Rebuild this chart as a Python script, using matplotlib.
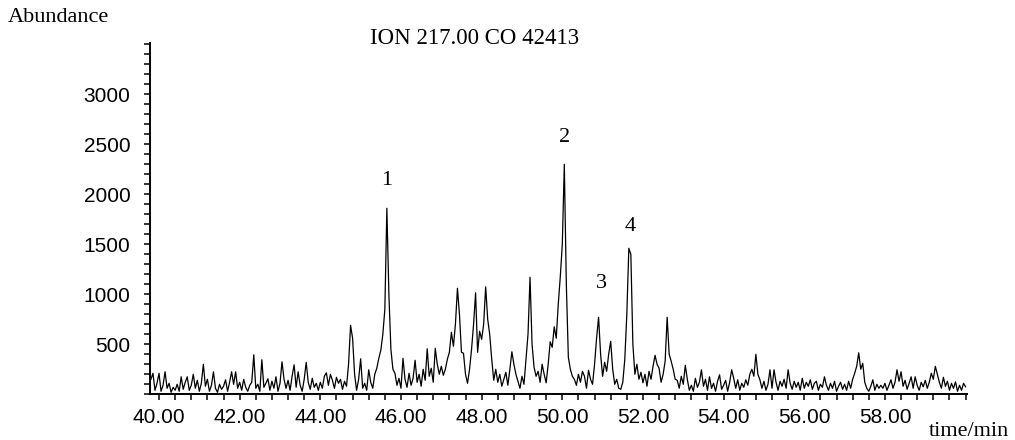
import matplotlib
matplotlib.use("Agg")
import matplotlib.pyplot as plt
import numpy as np
from matplotlib.ticker import FixedLocator, MultipleLocator, FormatStrFormatter

# scan grid of the ion chromatogram (min)
SCAN_START = 39.80
SCAN_STEP = 0.05

# abundance, one row per minute
ABUNDANCE = [
    150, 210, 40, 110,  # 39.80 - 39.95
    210, 30, 90, 225, 60, 110, 20, 70, 40, 100, 30, 175, 50, 120, 175, 40, 90, 200, 60, 140,  # 40
    30, 110, 300, 80, 150, 30, 90, 225, 60, 20, 100, 50, 80, 145, 30, 120, 225, 100, 225, 60,  # 41
    120, 40, 150, 70, 30, 90, 120, 395, 60, 100, 30, 345, 70, 110, 155, 40, 130, 60, 175, 30,  # 42
    110, 325, 150, 60, 140, 40, 180, 295, 70, 225, 90, 30, 150, 320, 120, 50, 160, 70, 110, 40,  # 43
    120, 60, 180, 215, 90, 200, 140, 60, 170, 110, 150, 50, 130, 80, 300, 690, 560, 200, 40, 150,  # 44
    355, 60, 110, 40, 245, 120, 60, 200, 260, 360, 440, 600, 850, 1860, 1000, 450, 250, 210, 90, 160,  # 45
    60, 360, 150, 70, 210, 90, 160, 340, 120, 200, 80, 250, 140, 455, 180, 260, 120, 460, 300, 200,  # 46
    280, 190, 250, 350, 420, 620, 480, 700, 1060, 800, 420, 410, 200, 110, 250, 450, 700, 1015, 420, 630,  # 47
    550, 700, 1075, 750, 600, 350, 140, 250, 120, 200, 80, 150, 220, 90, 250, 425, 300, 200, 130, 60,  # 48
    180, 100, 350, 600, 1170, 500, 270, 180, 230, 120, 300, 200, 115, 300, 525, 470, 675, 560, 900, 1175,  # 49
    1500, 2300, 1100, 370, 250, 180, 150, 90, 200, 120, 230, 180, 60, 240, 150, 100, 300, 560, 770, 400,  # 50
    180, 320, 230, 400, 530, 250, 100, 150, 60, 50, 120, 350, 800, 1460, 1400, 500, 200, 300, 150, 220,  # 51
    115, 200, 80, 230, 150, 280, 390, 300, 260, 120, 200, 330, 770, 400, 330, 250, 150, 140, 60, 180,  # 52
    100, 290, 150, 40, 90, 30, 160, 70, 120, 245, 80, 150, 40, 175, 60, 110, 30, 130, 195, 50,  # 53
    90, 140, 30, 120, 245, 160, 60, 145, 40, 110, 70, 145, 90, 200, 250, 180, 400, 200, 145, 60,  # 54
    130, 40, 100, 245, 60, 245, 120, 40, 130, 80, 150, 60, 245, 110, 50, 130, 70, 120, 40, 160,  # 55
    60, 120, 80, 145, 50, 110, 130, 40, 100, 70, 175, 90, 40, 110, 60, 130, 30, 80, 120, 50,  # 56
    100, 40, 130, 60, 150, 210, 280, 415, 250, 310, 120, 60, 30, 80, 145, 40, 100, 60, 90, 60,  # 57
    110, 40, 90, 145, 60, 120, 245, 130, 225, 80, 140, 50, 110, 175, 60, 175, 90, 40, 120, 75,  # 58
    140, 60, 120, 210, 150, 280, 200, 120, 60, 170, 80, 130, 40, 110, 60, 125, 30, 90, 40, 110,  # 59
    75,  # 60.00
]

PEAK_NUMBERS = ["1", "2", "3", "4"]
PEAK_TIMES = [45.65, 50.05, 50.90, 51.65]
LABEL_OFFSETS = [(0, 20), (0, 19), (2, 24), (1, 16)]  # points above each peak

X_TICKS = [40, 42, 44, 46, 48, 50, 52, 54, 56, 58]
Y_TICKS = [500, 1000, 1500, 2000, 2500, 3000]

SERIF = ["Liberation Serif", "DejaVu Serif"]
SANS = ["Liberation Sans", "DejaVu Sans"]


def main() -> None:
    abundance = np.array(ABUNDANCE, dtype=float)
    times = SCAN_START + SCAN_STEP * np.arange(len(abundance))

    fig = plt.figure(figsize=(10.15, 4.4), dpi=100)
    ax = fig.add_axes([0.1478, 0.1039, 0.8049, 0.7977])
    ax.plot(times, abundance, color="black", linewidth=0.9)

    ax.set_xlim(39.777, 60.035)
    ax.set_ylim(0, 3510)

    ax.xaxis.set_major_locator(FixedLocator(X_TICKS))
    ax.xaxis.set_minor_locator(MultipleLocator(0.4))
    ax.xaxis.set_major_formatter(FormatStrFormatter("%.2f"))
    ax.yaxis.set_major_locator(FixedLocator(Y_TICKS))
    ax.yaxis.set_minor_locator(MultipleLocator(100))

    for side in ["top", "right"]:
        ax.spines[side].set_visible(False)
    for side in ["left", "bottom"]:
        ax.spines[side].set_linewidth(1.4)
    ax.tick_params(which="both", direction="out", length=4, width=1.1, color="black")
    ax.tick_params(axis="y", which="major", pad=10)
    ax.tick_params(axis="x", which="major", pad=6)
    for label in ax.get_xticklabels() + ax.get_yticklabels():
        label.set_fontfamily(SANS)
        label.set_fontsize(15)

    for number, t, offset in zip(PEAK_NUMBERS, PEAK_TIMES, LABEL_OFFSETS):
        height = abundance[np.argmin(np.abs(times - t))]
        ax.annotate(number, xy=(t, height), xytext=offset, textcoords="offset points",
                    ha="center", va="center", fontsize=16, family=SERIF)

    fig.text(8 / 1015, 1 - 18 / 440, "Abundance", ha="left", va="center", fontsize=16, family=SERIF)
    fig.text(370 / 1015, 1 - 38 / 440, "ION 217.00 CO 42413", ha="left", va="center", fontsize=16.5, family=SERIF)
    fig.text(1009 / 1015, 1 - 431 / 440, "time/min", ha="right", va="center", fontsize=16, family=SERIF)

    fig.savefig("out.png", dpi=100, facecolor="white")
    plt.close(fig)


if __name__ == "__main__":
    main()
